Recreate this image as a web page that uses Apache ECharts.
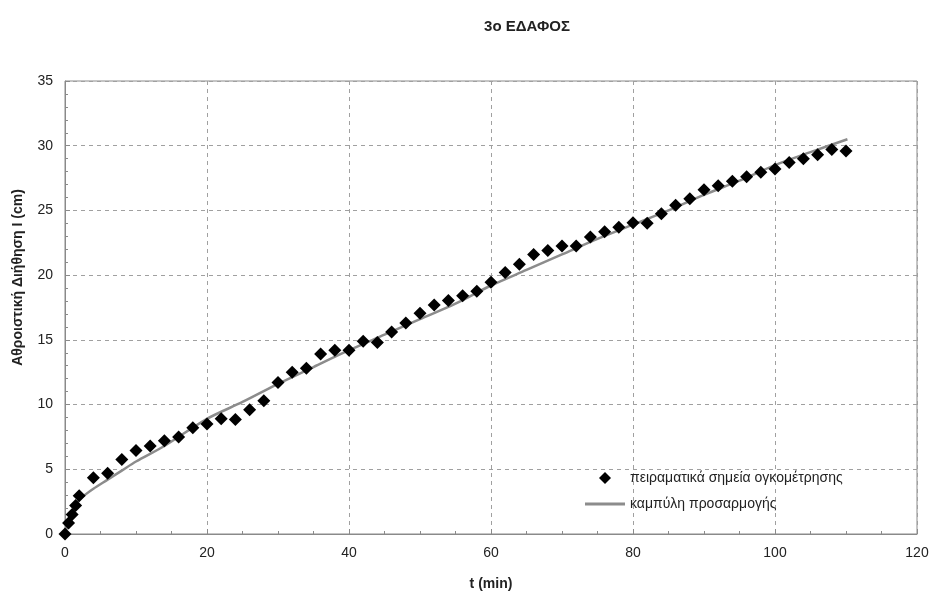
<!DOCTYPE html>
<html>
<head>
<meta charset="utf-8">
<script src="https://cdn.jsdelivr.net/npm/echarts@6/dist/echarts.min.js"></script>
<style>html,body{margin:0;padding:0;background:#fff}#c{width:932px;height:596px}</style>
</head>
<body>
<div id="c"></div>
<script>
// Measured points (t in min, cumulative infiltration I in cm)
const tPoints = [0,0.5,1,1.5,2,4,6,8,10,12,14,16,18,20,22,24,26,28,30,32,34,36,38,40,42,44,46,48,50,52,54,56,58,60,62,64,66,68,70,72,74,76,78,80,82,84,86,88,90,92,94,96,98,100,102,104,106,108,110];
const iPoints = [0,0.85,1.5,2.2,2.95,4.35,4.7,5.75,6.45,6.8,7.2,7.5,8.2,8.5,8.9,8.85,9.6,10.3,11.7,12.5,12.8,13.9,14.2,14.2,14.9,14.8,15.6,16.3,17.05,17.7,18.05,18.4,18.75,19.45,20.2,20.85,21.6,21.9,22.25,22.25,22.95,23.35,23.7,24.05,24.0,24.75,25.4,25.9,26.6,26.9,27.25,27.6,27.95,28.2,28.7,29.0,29.3,29.7,29.6];
// Fitted curve
const tCurve = [0,0.5,1,1.5,2,3,4,6,8,10,14,20,25,30,35,40,45,50,55,60,65,70,75,80,85,90,95,100,105,110.2];
const iCurve = [0,0.9,1.55,2.15,2.65,3.1,3.5,4.2,4.9,5.6,6.8,8.9,10.2,11.6,12.9,14.2,15.4,16.6,17.8,19.2,20.4,21.6,22.8,23.9,25.0,26.2,27.3,28.5,29.5,30.5];
const xTicks = {min:0, max:120, interval:20};
const yTicks = {min:0, max:35, interval:5};
const title = '3o ΕΔΑΦΟΣ';
const xName = 't (min)';
const yName = 'Αθροιστική Διήθηση I (cm)';
const seriesNames = ['πειραματικά σημεία ογκομέτρησης', 'καμπύλη προσαρμογής'];

const FONT = '"Liberation Sans", Arial, sans-serif';
const chart = echarts.init(document.getElementById('c'), null, {renderer:'canvas'});
const axisCommon = {
  axisLine:{show:true, lineStyle:{color:'#8a8a8a', width:1}},
  axisTick:{show:true, inside:true, length:5, lineStyle:{color:'#8a8a8a'}},
  minorTick:{show:true, length:3, lineStyle:{color:'#8a8a8a'}},
  splitLine:{show:true, lineStyle:{color:'#a0a0a0', type:[4,4], width:1}},
  axisLabel:{color:'#222', fontFamily:FONT, fontSize:14},
  nameTextStyle:{color:'#222', fontFamily:FONT, fontSize:14, fontWeight:'bold'}
};
chart.setOption({
  animation:false,
  backgroundColor:'#fff',
  title:{text:title, left:522, top:14, textAlign:'center',
    textStyle:{fontFamily:FONT, fontSize:15, fontWeight:'bold', color:'#222'}},
  grid:{left:65, right:15, top:81, bottom:56, show:true, borderColor:'#8a8a8a', borderWidth:1},
  xAxis:Object.assign({type:'value', min:xTicks.min, max:xTicks.max, interval:xTicks.interval,
    name:xName, nameLocation:'middle', nameGap:43}, axisCommon,
    {minorTick:{show:true, splitNumber:4, length:3, lineStyle:{color:'#8a8a8a'}},
     axisLabel:Object.assign({}, axisCommon.axisLabel, {margin:12})}),
  yAxis:Object.assign({type:'value', min:yTicks.min, max:yTicks.max, interval:yTicks.interval,
    name:yName, nameLocation:'middle', nameGap:40}, axisCommon,
    {minorTick:{show:true, splitNumber:5, length:3, lineStyle:{color:'#8a8a8a'}},
     axisLabel:Object.assign({}, axisCommon.axisLabel, {margin:12}),
     nameTextStyle:Object.assign({}, axisCommon.nameTextStyle, {fontSize:14, padding:[0,0,0,60]})}),
  legend:{orient:'vertical', left:580, top:466, itemWidth:40, itemHeight:12, itemGap:12,
    symbolKeepAspect:true,
    textStyle:{fontFamily:FONT, fontSize:14, color:'#222'},
    data:[{name:seriesNames[0], icon:'path://M6,0L12,6L6,12L0,6Z', itemStyle:{color:'#000', opacity:1}},
          {name:seriesNames[1], icon:'path://M0,0H40V3H0Z', itemStyle:{color:'#8c8c8c'}}]},
  series:[
    {name:seriesNames[1], type:'line', data:tCurve.map((t,i)=>[t,iCurve[i]]), smooth:0.3,
      symbol:'none', lineStyle:{color:'#8c8c8c', width:2.5}, itemStyle:{color:'#8c8c8c'}, z:2},
    {name:seriesNames[0], type:'scatter', data:tPoints.map((t,i)=>[t,iPoints[i]]),
      symbol:'diamond', symbolSize:13, itemStyle:{color:'#000', opacity:1}, z:3}
  ]
});
</script>
</body>
</html>
